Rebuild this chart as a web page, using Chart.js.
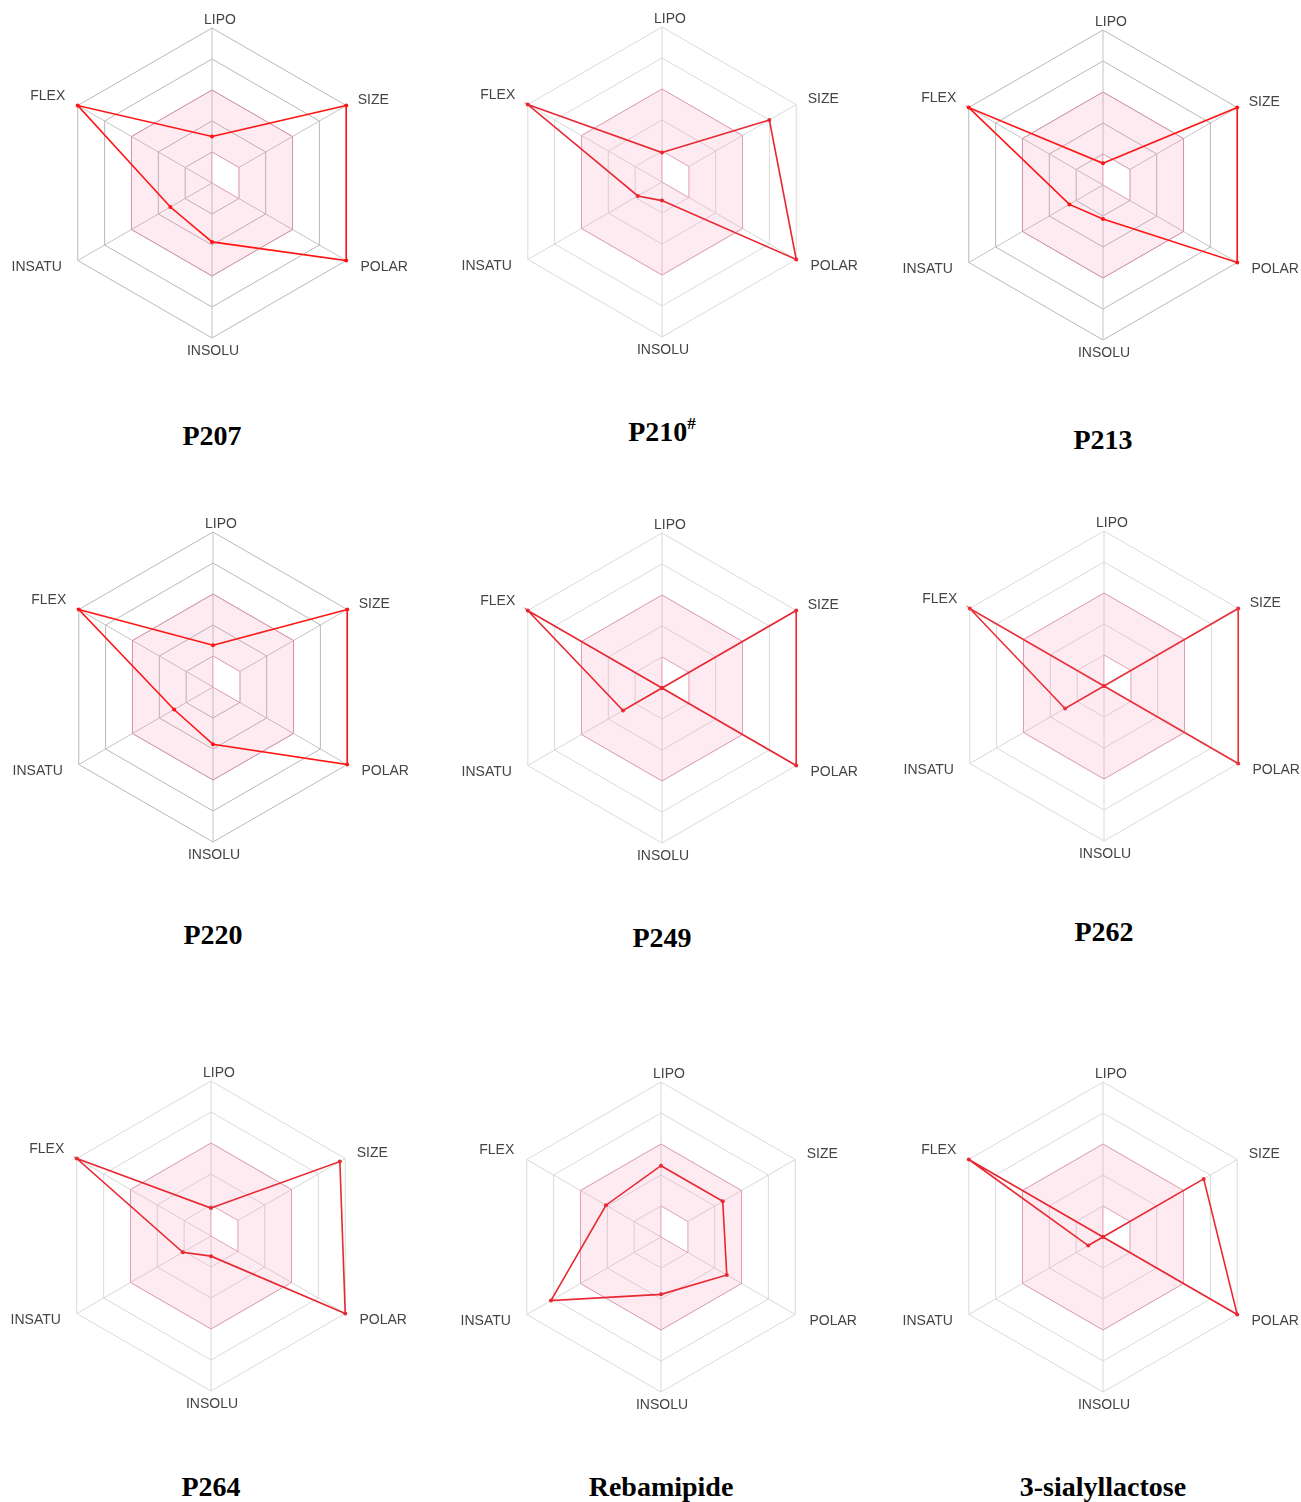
<!DOCTYPE html>
<html>
<head>
<meta charset="utf-8">
<script src="https://cdn.jsdelivr.net/npm/chart.js@4.4.1/dist/chart.umd.min.js"></script>
<style>
  body { margin: 0; background: #fff; }
  #page { position: relative; width: 1301px; height: 1502px; background: #fff; overflow: hidden; }
  canvas { position: absolute; }
  .title {
    position: absolute; width: 300px; text-align: center;
    font-family: "Liberation Serif", "Times New Roman", serif;
    font-weight: bold; font-size: 28px; color: #000; line-height: 32px;
  }
  .title sup { font-size: 17px; vertical-align: 12px; line-height: 0; }
</style>
</head>
<body>
<div id="page"></div>
<script>
// radar axes
const axes = ['LIPO', 'SIZE', 'POLAR', 'INSOLU', 'INSATU', 'FLEX'];

// compound names
const compounds = ['P207', 'P210', 'P213', 'P220', 'P249', 'P262', 'P264', 'Rebamipide', '3-sialyllactose'];

// property values (scale 0..5)
const p207 = [1.5, 5, 5, 1.9, 1.55, 5];
const p210 = [0.95, 4.0, 5, 0.6, 0.9, 5];
const p213 = [0.7, 5, 5, 1.1, 1.25, 5];
const p220 = [1.35, 5, 5, 1.85, 1.45, 5];
const p249 = [0, 5, 5, 0, 1.45, 5];
const p262 = [0, 5, 5, 0, 1.45, 5];
const p264 = [0.9, 4.8, 5, 0.65, 1.05, 5];
const rebamipide = [2.3, 2.3, 2.45, 1.85, 4.1, 2.05];
const sialyllactose = [0, 3.75, 5, 0, 0.55, 5];

// optimal (pink) zone limits
const optimalOuter = [3, 3, 3, 3, 3, 3];
const optimalInner = [1, 1, 1, 0, 0, 0];

const series = [p207, p210, p213, p220, p249, p262, p264, rebamipide, sialyllactose];

// layout: chart centre, title centre, grid style
const panels = [
  { cx: 212, cy: 183, ty: 436, dotted: true,  red: 'rgb(255,20,20)' },
  { cx: 662, cy: 182, ty: 432, dotted: false, red: 'rgb(232,40,50)' },
  { cx: 1103, cy: 185, ty: 440, dotted: true, red: 'rgb(255,20,20)' },
  { cx: 213, cy: 687, ty: 935, dotted: true,  red: 'rgb(255,20,20)' },
  { cx: 662, cy: 688, ty: 938, dotted: false, red: 'rgb(232,40,50)' },
  { cx: 1104, cy: 686, ty: 932, dotted: false, red: 'rgb(232,50,60)' },
  { cx: 211, cy: 1236, ty: 1487, dotted: false, red: 'rgb(232,40,50)' },
  { cx: 661, cy: 1237, ty: 1487, dotted: false, red: 'rgb(232,40,50)' },
  { cx: 1103, cy: 1237, ty: 1487, dotted: false, red: 'rgb(232,40,50)' }
];

// where each axis name sits relative to its outer vertex
const labelOffsets = [[8, -8], [27, -5], [38, 7], [1, 13], [-41, 7], [-30, -9]];

const pink = 'rgba(225,130,160,0.65)';

// draws axis names next to the outer vertices
const axisNames = {
  id: 'axisNames',
  afterDraw(chart) {
    const r = chart.scales.r;
    const ctx = chart.ctx;
    ctx.save();
    ctx.font = '14px "Liberation Sans", Arial, sans-serif';
    ctx.fillStyle = '#444';
    ctx.textAlign = 'center';
    ctx.textBaseline = 'middle';
    chart.data.labels.forEach(function (name, i) {
      const pt = r.getPointPosition(i, r.drawingArea);
      ctx.fillText(name, pt.x + labelOffsets[i][0], pt.y + labelOffsets[i][1]);
    });
    ctx.restore();
  }
};

const page = document.getElementById('page');
const W = 440, H = 350;

panels.forEach(function (p, i) {
  const cv = document.createElement('canvas');
  cv.width = W; cv.height = H;
  cv.style.left = (p.cx - W / 2) + 'px';
  cv.style.top = (p.cy - H / 2) + 'px';
  page.appendChild(cv);

  const t = document.createElement('div');
  t.className = 'title';
  t.style.left = (p.cx - 150) + 'px';
  t.style.top = (p.ty - 16) + 'px';
  if (compounds[i] === 'P210') {
    t.innerHTML = 'P210<sup>#</sup>';
  } else {
    t.textContent = compounds[i];
  }
  page.appendChild(t);

  new Chart(cv.getContext('2d'), {
    type: 'radar',
    data: {
      labels: axes,
      datasets: [
        {
          data: series[i],
          borderColor: p.red,
          backgroundColor: p.red,
          pointBackgroundColor: p.red,
          pointBorderWidth: 0,
          borderWidth: 1.6,
          pointRadius: 2,
          fill: false
        },
        {
          // hole in the middle of the optimal zone
          data: optimalInner,
          borderColor: pink,
          backgroundColor: '#ffffff',
          borderWidth: 1,
          pointRadius: 0,
          fill: 'origin',
          segment: {
            borderColor: function (c) {
              return (c.p0.parsed.r === 0 || c.p1.parsed.r === 0) ? 'rgba(0,0,0,0)' : pink;
            }
          }
        },
        {
          data: optimalOuter,
          borderColor: pink,
          backgroundColor: 'rgba(245,90,140,0.12)',
          borderWidth: 1,
          pointRadius: 0,
          fill: 'origin'
        }
      ]
    },
    options: {
      responsive: false,
      animation: false,
      events: [],
      layout: { padding: 20 },
      plugins: { legend: { display: false }, tooltip: { enabled: false } },
      elements: { line: { tension: 0 } },
      scales: {
        r: {
          min: 0,
          max: 5,
          ticks: { display: false, stepSize: 1 },
          grid: {
            color: p.dotted ? '#b8b8b8' : '#dadada',
            lineWidth: 1,
            borderDash: p.dotted ? [1, 2] : []
          },
          angleLines: { color: p.dotted ? '#c4c4c4' : '#d8d8d8', lineWidth: 1 },
          pointLabels: { display: false }
        }
      }
    },
    plugins: [axisNames]
  });
});
</script>
</body>
</html>
